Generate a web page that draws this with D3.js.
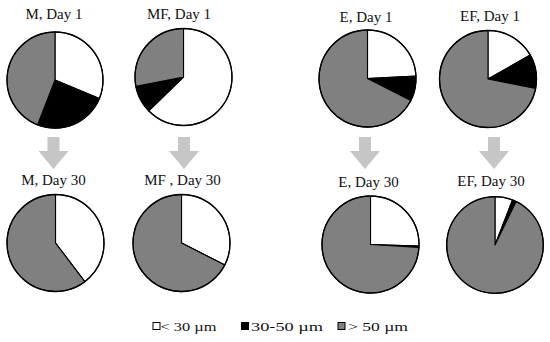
<!DOCTYPE html>
<html>
<head>
<meta charset="utf-8">
<script src="https://cdn.jsdelivr.net/npm/d3@7/dist/d3.min.js"></script>
<style>
  html, body { margin: 0; padding: 0; background: #fff; }
  svg { display: block; }
</style>
</head>
<body>
<svg id="chart" width="550" height="342"></svg>
<script>
// ---- data (percent of particles per size class) ----
const panels = ["M, Day 1", "MF, Day 1", "E, Day 1", "EF, Day 1",
                "M, Day 30", "MF , Day 30", "E, Day 30", "EF, Day 30"];
const lt30  = [31.3, 62.7, 24.2, 16.8, 39.7, 32.5, 25.5, 5.9];
const mid   = [24.6,  9.2,  8.3, 11.3,  0.0,  0.0,  0.5, 1.3];
const gt50  = [44.1, 28.1, 67.5, 71.9, 60.3, 67.5, 74.0, 92.8];
const sizeClasses = ["< 30 µm", "30-50 µm", "> 50 µm"];

// ---- layout ----
const FONT = "'Liberation Serif'";
const colors = ["#ffffff", "#000000", "#808080"];
const pieLayout = [
  {cx: 55,    cy: 80,    r: 48,   tx: 54,    ty: 19},
  {cx: 183.5, cy: 77,    r: 48.5, tx: 179,   ty: 19},
  {cx: 367.5, cy: 78.5,  r: 48.5, tx: 366,   ty: 22},
  {cx: 488,   cy: 79,    r: 48.5, tx: 490,   ty: 21},
  {cx: 55.5,  cy: 243,   r: 48.5, tx: 53.5,  ty: 185},
  {cx: 181.5, cy: 243,   r: 48.5, tx: 182.5, ty: 185},
  {cx: 370.5, cy: 244.5, r: 48.5, tx: 368.5, ty: 186.5},
  {cx: 495,   cy: 245,   r: 48.3, tx: 491,   ty: 186}
];
const arrowX = [53.5, 184, 365, 494];

const svg = d3.select("#chart");
const color = d3.scaleOrdinal().domain(sizeClasses).range(colors);
const pie = d3.pie().sort(null).value(d => d.v);

panels.forEach((name, i) => {
  const L = pieLayout[i];
  const data = sizeClasses.map((c, k) => ({c, v: [lt30, mid, gt50][k][i]}));
  const arc = d3.arc().innerRadius(0).outerRadius(L.r);
  const g = svg.append("g").attr("transform", `translate(${L.cx},${L.cy})`);
  g.selectAll("path").data(pie(data)).join("path")
    .attr("d", arc)
    .attr("fill", d => color(d.data.c))
    .attr("stroke", "#000")
    .attr("stroke-width", 1.1)
    .attr("stroke-linejoin", "round");
  g.append("circle").attr("r", L.r).attr("fill", "none")
    .attr("stroke", "#000").attr("stroke-width", 1.3);

  svg.append("text")
    .attr("x", L.tx).attr("y", L.ty)
    .attr("text-anchor", "middle")
    .style("font-family", FONT)
    .style("font-size", "15px")
    .attr("fill", "#111")
    .text(name);
});

// ---- arrows ----
const aTop = 137, aNeck = 151, aTip = 169, shaftW = 12, headW = 30;
arrowX.forEach(x => {
  const pts = [
    [x - shaftW / 2, aTop], [x + shaftW / 2, aTop], [x + shaftW / 2, aNeck],
    [x + headW / 2, aNeck], [x, aTip], [x - headW / 2, aNeck], [x - shaftW / 2, aNeck]
  ];
  svg.append("path").attr("d", d3.line()(pts) + "Z").attr("fill", "#c6c6c6");
});

// ---- legend ----
const legSq = [153, 241.5, 338];
const legTx = [160.5, 251, 348];
const legLen = [56, 72, 60];
const legG = svg.append("g");
sizeClasses.forEach((c, k) => {
  legG.append("rect")
    .attr("x", legSq[k]).attr("y", 322.5).attr("width", 7).attr("height", 7)
    .attr("fill", color(c)).attr("stroke", "#000").attr("stroke-width", 1);
  legG.append("text")
    .attr("x", legTx[k]).attr("y", 330.5)
    .style("font-family", FONT)
    .style("font-size", "13px")
    .attr("fill", "#111")
    .attr("textLength", legLen[k])
    .attr("lengthAdjust", "spacingAndGlyphs")
    .text(c);
});
</script>
</body>
</html>
